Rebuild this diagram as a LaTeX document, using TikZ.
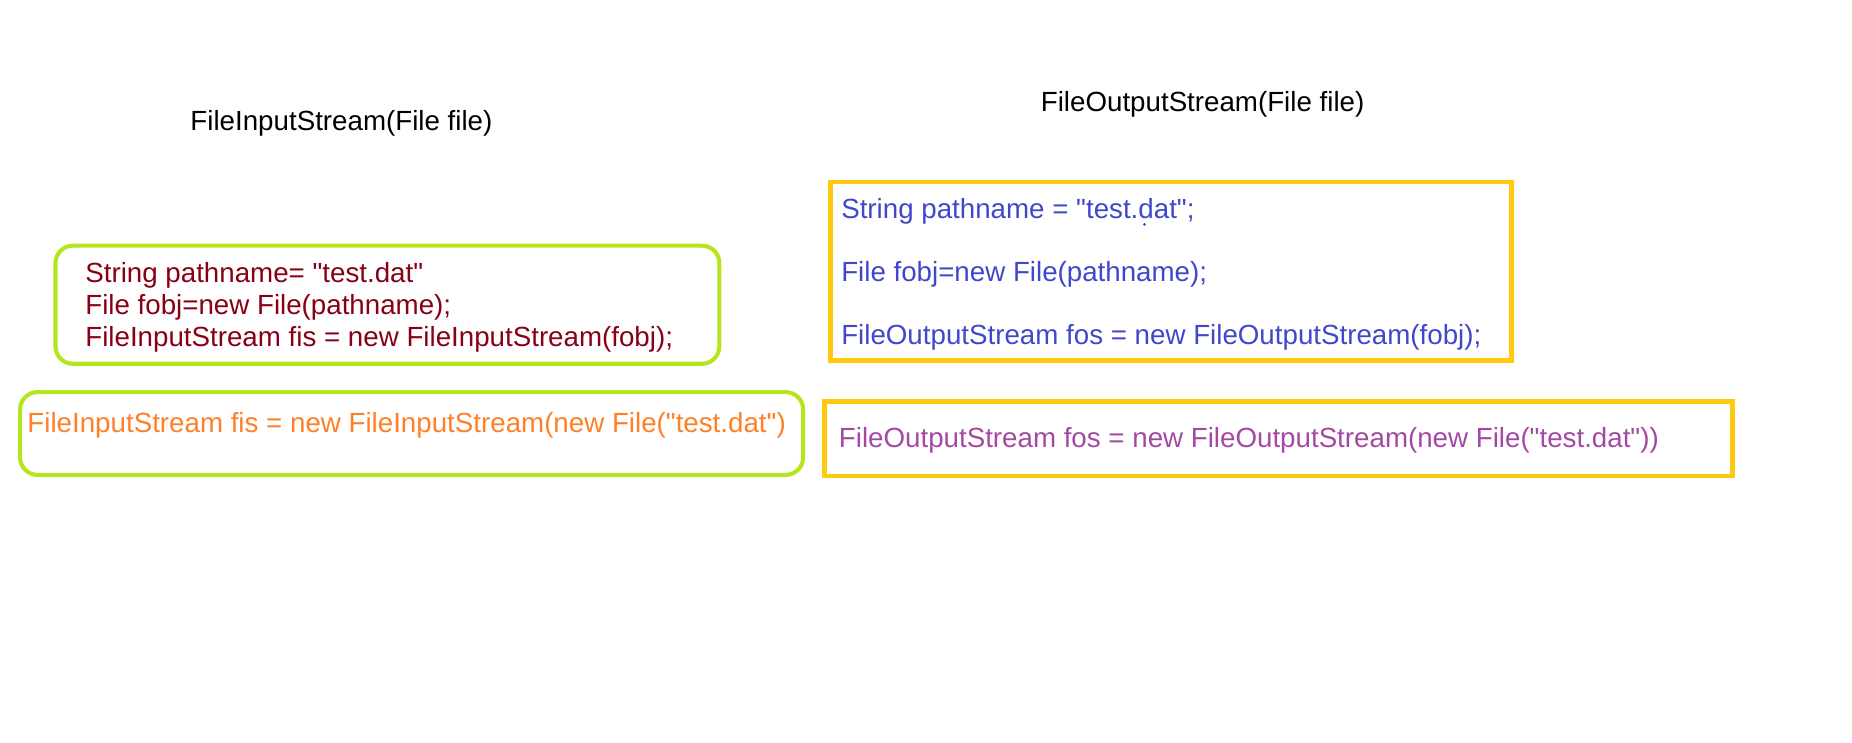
\documentclass[tikz,border=0pt]{standalone}
\usepackage{fontspec}
\setmainfont{Liberation Sans}[Ligatures=TeXOff]
\usepackage{tikz}
\usetikzlibrary{shapes,arrows}

\definecolor{darkred}{RGB}{136,0,21}
\definecolor{paintorange}{RGB}{255,127,39}
\definecolor{paintindigo}{RGB}{63,72,204}
\definecolor{paintpurple}{RGB}{163,73,164}
\definecolor{paintlime}{RGB}{181,230,29}
\definecolor{paintgold}{RGB}{255,201,14}

\begin{document}
\begin{tikzpicture}[x=0.75pt,y=0.75pt,yscale=-1,xscale=1,
  limebox/.style={draw=paintlime,line width=2.6pt,rounded corners=11pt},
  goldbox/.style={draw=paintgold,line width=3pt},
  codetxt/.style={anchor=west,inner sep=0pt,font=\fontsize{17.6}{21}\selectfont}]

\useasboundingbox (0,0) rectangle (1568,629);

%Rounded Rect [input, three lines]
\draw [limebox] (47,208) rectangle (609,308) ;
%Rounded Rect [input, one line]
\draw [limebox] (17,332) rectangle (680,402) ;
%Shape: Rectangle [output, three lines]
\draw [goldbox] (703,154) rectangle (1280,305) ;
%Shape: Rectangle [output, one line]
\draw [goldbox] (698,340) rectangle (1467,403) ;
%Stray dot
\fill [paintindigo] (969,190) circle [radius=1.3] ;

% Text Node
\draw (161,104) node [codetxt] (tin) {FileInputStream(File file)};
% Text Node
\draw (881,88) node [codetxt] (tout) {FileOutputStream(File file)};
% Text Node
\draw (72,233) node [codetxt,text=darkred] (ina) {String pathname= "test.dat"};
% Text Node
\draw (72,260) node [codetxt,text=darkred] (inb) {File fobj=new File(pathname);};
% Text Node
\draw (72,287) node [codetxt,text=darkred] (inc) {FileInputStream fis = new FileInputStream(fobj);};
% Text Node
\draw (23,360) node [codetxt,text=paintorange] (ind) {FileInputStream fis = new FileInputStream(new File("test.dat")};
% Text Node
\draw (712,179) node [codetxt,text=paintindigo] (outa) {String pathname = "test.dat";};
% Text Node
\draw (712,232) node [codetxt,text=paintindigo] (outb) {File fobj=new File(pathname);};
% Text Node
\draw (712,286) node [codetxt,text=paintindigo] (outc) {FileOutputStream fos = new FileOutputStream(fobj);};
% Text Node
\draw (710,373) node [codetxt,text=paintpurple] (outd) {FileOutputStream fos = new FileOutputStream(new File("test.dat"))};

\end{tikzpicture}
\end{document}
